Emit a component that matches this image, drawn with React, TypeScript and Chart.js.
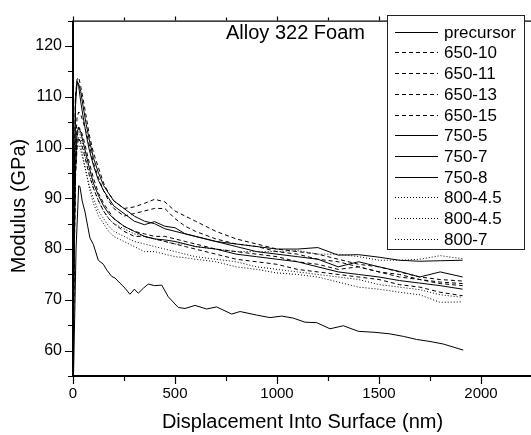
import React, { useEffect, useRef } from 'react';
import { Chart, registerables } from 'chart.js';

Chart.register(...registerables);

const FONT = '"Liberation Sans", Arial, sans-serif';

const chartTitle = 'Alloy 322 Foam';
const xTitle = 'Displacement Into Surface (nm)';
const yTitle = 'Modulus (GPa)';

const xTicks = [0, 500, 1000, 1500, 2000];
const yTicks = [60, 70, 80, 90, 100, 110, 120];
const xMinor = [250, 750, 1250, 1750, 2250];
const yMinor = [55, 65, 75, 85, 95, 105, 115, 125];

const precursorX = [0, 15, 28, 34, 45, 59, 72, 83, 100, 124, 149, 165, 190, 206, 230, 255, 279, 301, 320, 345, 369, 400, 435, 467, 516, 549, 598, 655, 704, 778, 819, 900, 966, 1023, 1080, 1137, 1195, 1260, 1325, 1399, 1480, 1554, 1620, 1684, 1750, 1815, 1913];
const precursorY = [50, 80, 92.5, 92.3, 89.5, 87.3, 84.5, 82.2, 80.9, 77.8, 77.0, 75.9, 74.6, 74.3, 73.3, 72.3, 71.1, 72.1, 71.3, 72.3, 73.1, 72.8, 72.9, 70.6, 68.5, 68.3, 68.9, 68.2, 68.6, 67.2, 67.7, 67.0, 66.5, 66.8, 66.4, 65.6, 65.5, 64.3, 64.9, 63.8, 63.6, 63.3, 62.8, 62.2, 61.8, 61.3, 60.1];

const foamX = [0, 5, 12, 20, 28, 38, 50, 65, 80, 100, 125, 150, 175, 200, 250, 300, 350, 400, 450, 500, 550, 600, 700, 800, 900, 1000, 1100, 1200, 1300, 1400, 1500, 1600, 1700, 1800, 1910];

const y650_10 = [55, 90, 110, 113.5, 113.8, 112, 109.5, 106, 102.5, 99, 96, 93, 91, 89.5, 88, 88.3, 89, 89.8, 89.3, 87.5, 86.5, 85.5, 83.5, 82, 81, 80, 79.5, 79, 78, 77, 76.5, 75.5, 74.5, 74, 73.7];
const y650_11 = [50, 80, 100, 106, 107, 106.5, 105, 103, 100.5, 97, 94, 91.5, 89.5, 88, 86.5, 87, 87.5, 88, 88, 86, 84.5, 83.5, 82, 81, 80.5, 79.5, 79, 78, 77.5, 76.5, 75.5, 75, 74, 73.2, 72.8];
const y650_13 = [50, 78, 96, 102, 104, 103.5, 102, 99.5, 97, 94, 91, 89, 87.5, 86, 84.5, 83.5, 83, 82.5, 82.5, 82, 81.5, 81, 80, 79.5, 79, 78.5, 77.5, 77, 76, 76.5, 75.5, 74.5, 74, 73.5, 73.2];
const y650_15 = [50, 76, 94, 100, 102, 101, 99.5, 97, 94.5, 92, 89.5, 87.5, 86, 85, 83.5, 82.5, 82.5, 82, 81.5, 81, 80.5, 80, 79, 78, 77.5, 77, 76, 75.5, 75, 74.5, 74, 73, 72.5, 71.5, 70.8];
const y750_5 = [50, 85, 108, 113, 112.5, 111, 108, 104.5, 101.5, 98, 95, 92.5, 91, 89.5, 88, 86.5, 85.5, 85, 84, 83.5, 83, 82.5, 81.5, 81, 80.5, 80, 80, 80.3, 78.8, 78.9, 78.4, 77.8, 77.6, 77.7, 77.8];
const y750_7 = [52, 88, 110, 113, 112, 109, 106, 102.5, 99.5, 96.5, 93.5, 91.5, 90, 88.5, 87, 85.5, 84.8, 85.4, 84.5, 84.2, 83, 82.5, 81.5, 80.5, 79.5, 79, 78.5, 78, 76.5, 77.5, 76.5, 75.6, 74.5, 75.5, 74.5];
const y750_8 = [50, 75, 95, 103, 104, 103, 101, 98.5, 96, 93, 90.5, 88.5, 87, 86, 84.5, 83.5, 82.5, 82, 81.8, 81.5, 81, 80.5, 80, 79, 78.5, 78, 77.5, 76.5, 75.5, 75, 74.5, 73.8, 73.3, 72.8, 72.1];
const y800_45a = [50, 82, 100, 104, 103.5, 102, 100, 97.5, 95, 92, 89.5, 87.5, 86, 85, 84, 83, 82.5, 82, 81.5, 81, 81, 80.5, 80, 79.5, 79.5, 79.5, 79.7, 79, 79, 78.5, 77.8, 77.8, 78, 78.7, 78.1];
const y800_45b = [50, 80, 96, 100, 100.5, 99.5, 97.5, 95, 92.5, 90, 87.5, 86, 84.5, 83.5, 82.5, 81.5, 81, 80.5, 80, 79.5, 79, 78.5, 78, 77.5, 76.5, 76, 75.5, 75, 74.5, 74, 73, 72.5, 72, 71, 70.5];
const y800_7 = [50, 78, 95, 101, 102, 100.5, 98, 95, 92, 89, 86.5, 85, 83.5, 82.5, 81.5, 80.5, 79.5, 79.5, 79, 78.5, 78.3, 78, 77.5, 76.5, 76, 75.3, 75, 74.5, 73.5, 72.5, 72.1, 71.5, 71, 69.5, 69.6];

const seriesNames = ['precursor', '650-10', '650-11', '650-13', '650-15', '750-5', '750-7', '750-8', '800-4.5', '800-4.5', '800-7'];
const foamSeries = [y650_10, y650_11, y650_13, y650_15, y750_5, y750_7, y750_8, y800_45a, y800_45b, y800_7];

const DASHED = [4, 3];
const DOTTED = [1, 2];
function dashFor(name: string): number[] {
  if (name.startsWith('650')) return DASHED;
  if (name.startsWith('800')) return DOTTED;
  return [];
}

const decorPlugin = {
  id: 'decor',
  afterDraw(chart: any) {
    const ctx = chart.ctx as CanvasRenderingContext2D;
    const { left, right, top, bottom } = chart.chartArea;
    const xs = chart.scales.x;
    const ys = chart.scales.y;
    ctx.save();
    ctx.strokeStyle = '#000';
    ctx.fillStyle = '#000';
    // axis lines
    ctx.lineWidth = 2;
    ctx.beginPath();
    ctx.moveTo(left, top);
    ctx.lineTo(left, bottom + 1);
    ctx.moveTo(left - 1, bottom);
    ctx.lineTo(right + 20, bottom);
    ctx.stroke();
    ctx.lineWidth = 1.2;
    ctx.beginPath();
    ctx.moveTo(left, top + 0.5);
    ctx.lineTo(right + 20, top + 0.5);
    ctx.stroke();
    // ticks
    ctx.lineWidth = 1.2;
    ctx.beginPath();
    yTicks.forEach((v) => {
      const p = Math.round(ys.getPixelForValue(v)) + 0.5;
      ctx.moveTo(left - 8, p);
      ctx.lineTo(left, p);
    });
    yMinor.forEach((v) => {
      const p = Math.round(ys.getPixelForValue(v)) + 0.5;
      ctx.moveTo(left - 5, p);
      ctx.lineTo(left, p);
    });
    xTicks.forEach((v) => {
      const p = Math.round(xs.getPixelForValue(v)) + 0.5;
      ctx.moveTo(p, bottom);
      ctx.lineTo(p, bottom + 8);
      ctx.moveTo(p, top);
      ctx.lineTo(p, top - 4);
    });
    xMinor.forEach((v) => {
      const p = Math.round(xs.getPixelForValue(v)) + 0.5;
      ctx.moveTo(p, bottom);
      ctx.lineTo(p, bottom + 5);
      ctx.moveTo(p, top);
      ctx.lineTo(p, top - 3);
    });
    ctx.stroke();

    // chart title
    ctx.font = `20px ${FONT}`;
    ctx.textAlign = 'left';
    ctx.textBaseline = 'alphabetic';
    ctx.fillText(chartTitle, 226, 39);

    // axis titles
    ctx.textAlign = 'center';
    ctx.fillText(xTitle, (left + right) / 2, 428);
    ctx.save();
    ctx.translate(25, 206);
    ctx.rotate(-Math.PI / 2);
    ctx.fillText(yTitle, 0, 0);
    ctx.restore();

    // legend
    const bx = 387.5, by = 15.5, bw = 137, bh = 234;
    ctx.fillStyle = '#fff';
    ctx.fillRect(bx, by, bw, bh);
    ctx.strokeStyle = '#222';
    ctx.lineWidth = 1;
    ctx.strokeRect(bx, by, bw, bh);
    ctx.fillStyle = '#000';
    ctx.font = `17px ${FONT}`;
    ctx.textAlign = 'left';
    ctx.textBaseline = 'middle';
    chart.data.datasets.forEach((ds: any, i: number) => {
      const cy = Math.round(31.7 + i * 20.7) + 0.5;
      ctx.strokeStyle = '#000';
      ctx.lineWidth = 1;
      ctx.setLineDash(ds.borderDash || []);
      ctx.beginPath();
      ctx.moveTo(395, cy);
      ctx.lineTo(438, cy);
      ctx.stroke();
      ctx.setLineDash([]);
      ctx.fillText(ds.label, 444, cy + 1);
    });
    ctx.restore();
  },
};

export default function App() {
  const canvasRef = useRef<HTMLCanvasElement | null>(null);

  useEffect(() => {
    const canvas = canvasRef.current;
    if (!canvas) return;
    const datasets = [
      {
        label: seriesNames[0],
        data: precursorX.map((x, i) => ({ x, y: precursorY[i] })),
        borderDash: dashFor(seriesNames[0]),
      },
      ...foamSeries.map((ys, k) => ({
        label: seriesNames[k + 1],
        data: foamX.map((x, i) => ({ x, y: ys[i] })),
        borderDash: dashFor(seriesNames[k + 1]),
      })),
    ].map((d) => ({
      ...d,
      borderColor: '#000',
      backgroundColor: '#000',
      borderWidth: 1,
      pointRadius: 0,
      tension: 0,
      fill: false,
    }));

    const chart = new Chart(canvas, {
      type: 'line',
      data: { datasets },
      options: {
        animation: false,
        responsive: false,
        devicePixelRatio: 1,
        layout: { padding: { left: 0, top: 9, right: 13, bottom: 0 } },
        plugins: { legend: { display: false }, tooltip: { enabled: false }, title: { display: false } },
        scales: {
          x: {
            type: 'linear',
            min: 0,
            max: 2250,
            grid: { display: false, drawTicks: false },
            border: { display: false },
            ticks: {
              padding: 9,
              color: '#000',
              font: { family: FONT, size: 15 },
              maxRotation: 0,
              autoSkip: false,
              callback: (v: any) => String(v),
            },
            afterBuildTicks: (s: any) => {
              s.ticks = xTicks.map((v) => ({ value: v }));
            },
            afterFit: (s: any) => {
              s.height = 59;
            },
          },
          y: {
            type: 'linear',
            min: 55,
            max: 125,
            grid: { display: false, drawTicks: false },
            border: { display: false },
            ticks: {
              padding: 11,
              color: '#000',
              font: { family: FONT, size: 16 },
              autoSkip: false,
              callback: (v: any) => String(v),
            },
            afterBuildTicks: (s: any) => {
              s.ticks = yTicks.map((v) => ({ value: v }));
            },
            afterFit: (s: any) => {
              s.width = 73;
            },
          },
        },
      },
      plugins: [decorPlugin],
    });
    return () => chart.destroy();
  }, []);

  return (
    <div style={{ position: 'fixed', left: 0, top: 0, width: 531, height: 435, overflow: 'hidden', background: '#fff' }}>
      <canvas ref={canvasRef} width={545} height={435} style={{ display: 'block', width: 545, height: 435 }} />
    </div>
  );
}
